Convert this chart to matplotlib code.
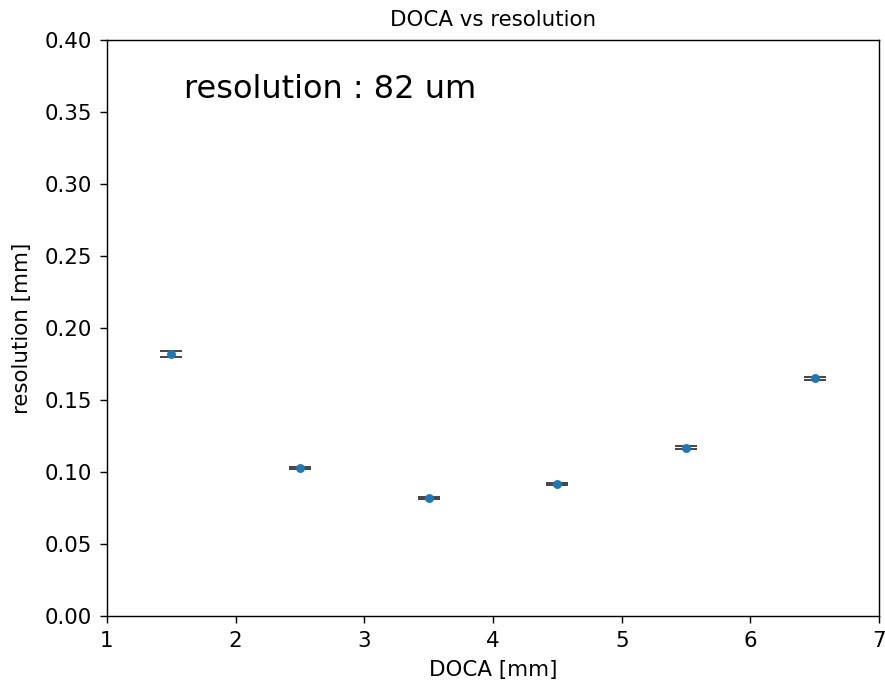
import numpy as np
import matplotlib
matplotlib.use("Agg")
import matplotlib.pyplot as plt

doca = [1.5, 2.5, 3.5, 4.5, 5.5, 6.5]
resolution = [0.182, 0.103, 0.082, 0.092, 0.117, 0.165]
res_err = [0.0018, 0.0007, 0.0007, 0.0007, 0.0010, 0.0012]

dpi = 128
fig = plt.figure(figsize=(885 / dpi, 684 / dpi), dpi=dpi)
ax = fig.add_axes([107/885, 1 - 616/684, 772/885, 576/684])

ax.errorbar(doca, resolution, yerr=res_err, fmt='o', markersize=4,
            ecolor='#333333', capsize=6)

ax.set_xlim(1, 7)
ax.set_ylim(0, 0.40)
ax.set_yticks(np.arange(0, 0.41, 0.05))
ax.tick_params(labelsize=12, length=4, pad=4.5)
ax.set_xlabel("DOCA [mm]", fontsize=12, labelpad=5)
ax.set_ylabel("resolution [mm]", fontsize=12, labelpad=7)
ax.set_title("DOCA vs resolution", fontsize=12, pad=8)
ax.text(0.1, 0.9, "resolution : 82 um", transform=ax.transAxes, fontsize=18)

fig.savefig("out.png", dpi=dpi)
